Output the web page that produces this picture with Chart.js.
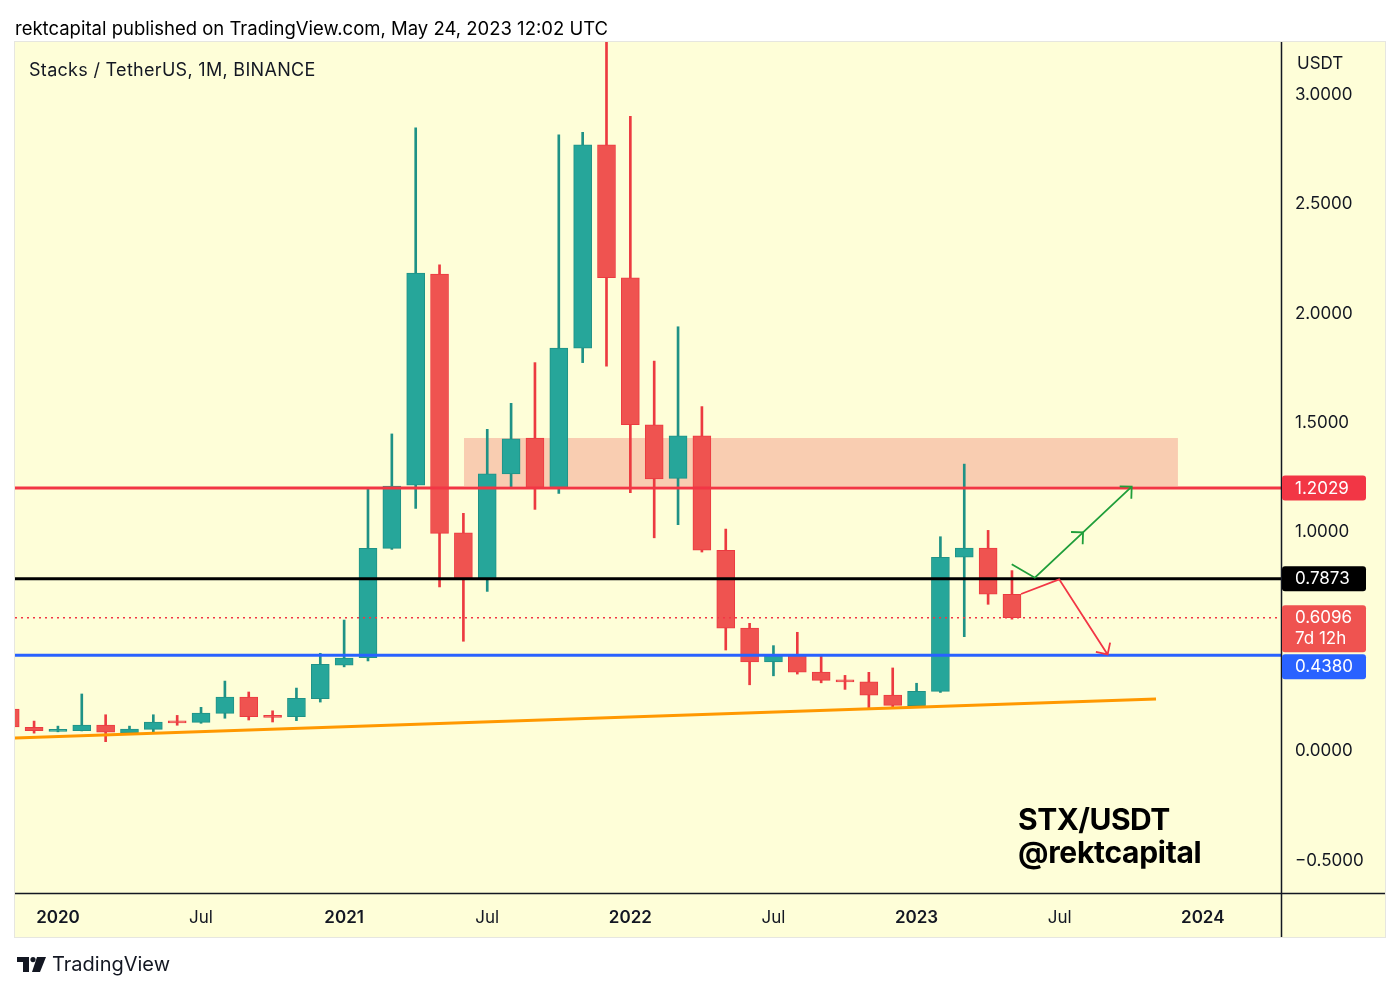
<!DOCTYPE html>
<html>
<head>
<meta charset="utf-8">
<script src="https://cdn.jsdelivr.net/npm/chart.js@4/dist/chart.umd.min.js"></script>
<style>
  html, body { margin: 0; padding: 0; background: #ffffff; }
  #wrap { position: relative; width: 1400px; height: 992px; overflow: hidden; font-family: Inter, "Open Sans", "DejaVu Sans", sans-serif; }
  canvas { position: absolute; left: 0; top: 0; }
  .txt { position: absolute; white-space: nowrap; color: #131722; }
  #hdr { left: 15px; top: 17px; font-size: 18.5px; color: #000; letter-spacing: 0px; }
  #ttl { left: 29px; top: 59px; font-size: 18px; color: #131722; letter-spacing: 0.3px; }
  #usdt { left: 1297px; top: 53px; font-size: 17px; color: #131722; }
  #wm1 { left: 1018px; top: 803px; font-size: 30px; font-weight: 700; color: #000; letter-spacing: -0.5px; line-height: 32px; }
  #wm2 { left: 1018px; top: 836px; font-size: 30px; font-weight: 700; color: #000; letter-spacing: -0.3px; line-height: 32px; }
  #foot { left: 52px; top: 952px; font-size: 20px; color: #131722; }
  #logo { position: absolute; left: 17px; top: 957px; }
</style>
</head>
<body>
<div id="wrap">
  <canvas id="c" width="1400" height="992"></canvas>
  <div class="txt" id="hdr">rektcapital published on TradingView.com, May 24, 2023 12:02 UTC</div>
  <div class="txt" id="ttl">Stacks / TetherUS, 1M, BINANCE</div>
  <div class="txt" id="usdt">USDT</div>
  <div class="txt" id="wm1">STX/USDT</div>
  <div class="txt" id="wm2">@rektcapital</div>
  <svg id="logo" width="30" height="16" viewBox="0 0 30 16">
    <path d="M0 0 H12 V15 H6 V5 H0 Z" fill="#131722"/>
    <circle cx="16" cy="2.6" r="2.6" fill="#131722"/>
    <path d="M20 0 H29 L23 15 H15 Z" fill="#131722"/>
  </svg>
  <div class="txt" id="foot">TradingView</div>
</div>
<script>
// ---------------- DATA ----------------
const months = ['2019-11','2019-12','2020-01','2020-02','2020-03','2020-04','2020-05','2020-06','2020-07','2020-08','2020-09','2020-10','2020-11','2020-12',
  '2021-01','2021-02','2021-03','2021-04','2021-05','2021-06','2021-07','2021-08','2021-09','2021-10','2021-11','2021-12',
  '2022-01','2022-02','2022-03','2022-04','2022-05','2022-06','2022-07','2022-08','2022-09','2022-10','2022-11','2022-12',
  '2023-01','2023-02','2023-03','2023-04','2023-05'];
const opens  = [0.192,0.108,0.090,0.093,0.119,0.082,0.099,0.138,0.131,0.172,0.247,0.163,0.157,0.239,
  0.393,0.427,0.927,1.216,2.181,0.998,0.786,1.267,1.431,1.201,1.842,2.772,
  2.164,1.492,1.247,1.441,0.918,0.562,0.408,0.438,0.361,0.325,0.316,0.256,
  0.207,0.273,0.886,0.928,0.717];
const highs  = [0.198,0.137,0.114,0.261,0.166,0.114,0.166,0.163,0.200,0.320,0.270,0.184,0.288,0.447,
  0.599,1.201,1.450,2.850,2.223,1.087,1.471,1.590,1.776,2.817,2.829,3.350,
  2.902,1.783,1.940,1.575,1.015,0.584,0.482,0.543,0.438,0.346,0.360,0.380,
  0.310,0.980,1.312,1.009,0.825];
const lows   = [0.108,0.082,0.088,0.092,0.043,0.078,0.087,0.118,0.127,0.150,0.142,0.133,0.139,0.224,
  0.385,0.412,0.922,1.109,0.751,0.502,0.730,1.200,1.105,1.178,1.776,1.760,
  1.181,0.975,1.035,0.910,0.462,0.303,0.344,0.352,0.312,0.282,0.194,0.194,
  0.200,0.268,0.523,0.671,0.603];
const closes = [0.110,0.093,0.099,0.119,0.086,0.101,0.133,0.129,0.174,0.247,0.157,0.154,0.241,0.397,
  0.425,0.927,1.212,2.185,0.995,0.786,1.267,1.428,1.204,1.843,2.772,2.164,
  1.492,1.244,1.441,0.918,0.562,0.408,0.438,0.361,0.323,0.316,0.255,0.209,
  0.273,0.886,0.928,0.717,0.6096];

// horizontal levels
const levelValues = [1.2029, 0.7873, 0.4380];
const levelColors = ['#f23645', '#000000', '#2962ff'];
const lastPrice = 0.6096;

// price tags on the right axis
const tagValues = [1.2029, 0.7873, 0.6096, 0.4380];
const tagTexts  = [['1.2029'], ['0.7873'], ['0.6096', '7d 12h'], ['0.4380']];
const tagColors = ['#f23645', '#000000', '#ef5350', '#2962ff'];

// support trendline (month index, price)
const trendX = [-1.8, 46.04];
const trendY = [0.060, 0.238];

// resistance zone
const zoneX = [17.02, 46.96];
const zoneTop = 1.431;
const zoneBottom = 1.212;

// projection arrows
const greenPathX = [39.99, 40.96, 42.98, 45.02];
const greenPathY = [0.854, 0.7925, 1.000, 1.2087];
const greenHeads = [2, 3];
const redPathX = [40.38, 41.98, 44.01];
const redPathY = [0.718, 0.785, 0.442];
const redHeads = [2];

// axes
const xMin = -1.8, xMax = 51.28;
const xTickValues = [0, 6, 12, 18, 24, 30, 36, 42, 48];
const xTickLabels = ['2020', 'Jul', '2021', 'Jul', '2022', 'Jul', '2023', 'Jul', '2024'];
const yMin = -0.649, yMax = 3.242;
const yTickValues = [3, 2.5, 2, 1.5, 1, 0.5, 0, -0.5];
const yTickLabels = ['3.0000', '2.5000', '2.0000', '1.5000', '1.0000', '', '0.0000', '\u22120.5000'];

// ---------------- BUILD ----------------
const monthIdx = months.map(m => { const [y, mo] = m.split('-').map(Number); return (y - 2020) * 12 + (mo - 1); });
const UP = '#26a69a', UP_B = '#1f9286', DN = '#ef5350', DN_B = '#ec3a40';
const isUp = closes.map((c, i) => c >= opens[i]);
const bodyData = monthIdx.map((x, i) => ({ x, y: [opens[i], closes[i]] }));
const wickData = monthIdx.map((x, i) => ({ x, y: [lows[i], highs[i]] }));
const span = (v) => [{ x: xMin, y: v }, { x: xMax, y: v }];
const font = 'Inter, "Open Sans", "DejaVu Sans", sans-serif';

const datasets = [];
datasets.push({
  type: 'line', order: 20,
  data: zoneX.map(x => ({ x, y: zoneTop })),
  borderWidth: 0, pointRadius: 0, backgroundColor: '#f9cdb1',
  fill: { value: zoneBottom }
});
datasets.push({
  type: 'bar', order: 15, grouped: false, barThickness: 2,
  data: wickData,
  backgroundColor: isUp.map(u => u ? UP_B : DN_B), borderWidth: 0
});
datasets.push({
  type: 'bar', order: 14, grouped: false, barThickness: 18, minBarLength: 2,
  data: bodyData,
  backgroundColor: isUp.map(u => u ? UP : DN),
  borderColor: isUp.map(u => u ? UP_B : DN_B),
  borderWidth: 1, borderSkipped: false
});
datasets.push({
  type: 'line', order: 10,
  data: trendX.map((x, i) => ({ x, y: trendY[i] })),
  borderColor: '#ff9800', borderWidth: 3, pointRadius: 0, fill: false
});
datasets.push({
  type: 'line', order: 9, data: span(lastPrice),
  borderColor: '#f23645', borderWidth: 1.3, borderDash: [2, 4], pointRadius: 0, fill: false
});
levelValues.forEach((v, i) => datasets.push({
  type: 'line', order: 8, data: span(v),
  borderColor: levelColors[i], borderWidth: 3, pointRadius: 0, fill: false
}));
datasets.push({
  type: 'line', order: 2, arrowHeads: greenHeads,
  data: greenPathX.map((x, i) => ({ x, y: greenPathY[i] })),
  borderColor: '#1f9e3a', borderWidth: 1.8, pointRadius: 0, fill: false
});
datasets.push({
  type: 'line', order: 2, arrowHeads: redHeads,
  data: redPathX.map((x, i) => ({ x, y: redPathY[i] })),
  borderColor: '#f23645', borderWidth: 1.8, pointRadius: 0, fill: false
});

const panelPlugin = {
  id: 'panel',
  beforeDraw(chart) {
    const ctx = chart.ctx;
    ctx.save();
    ctx.fillStyle = '#fefed8';
    ctx.fillRect(15, 42, 1370, 895);
    ctx.strokeStyle = '#e6e6e0';
    ctx.lineWidth = 1;
    ctx.strokeRect(14.5, 41.5, 1371, 896);
    ctx.restore();
  },
  afterDatasetsDraw(chart) {
    const ctx = chart.ctx, a = chart.chartArea;
    const xs = chart.scales.x, ys = chart.scales.y;
    ctx.save();
    // arrowheads
    chart.data.datasets.forEach((ds) => {
      if (!ds.arrowHeads) return;
      ctx.strokeStyle = ds.borderColor;
      ctx.lineWidth = ds.borderWidth;
      ds.arrowHeads.forEach(k => {
        const p = ds.data[k], q = ds.data[k - 1];
        const tx = xs.getPixelForValue(p.x), ty = ys.getPixelForValue(p.y);
        const px = xs.getPixelForValue(q.x), py = ys.getPixelForValue(q.y);
        const back = Math.atan2(py - ty, px - tx);
        const L = 12, th = Math.PI / 4;
        ctx.beginPath();
        ctx.moveTo(tx + L * Math.cos(back + th), ty + L * Math.sin(back + th));
        ctx.lineTo(tx, ty);
        ctx.lineTo(tx + L * Math.cos(back - th), ty + L * Math.sin(back - th));
        ctx.stroke();
      });
    });
    // axis border lines
    ctx.strokeStyle = '#131722';
    ctx.lineWidth = 1.5;
    ctx.beginPath();
    ctx.moveTo(15, a.bottom + 0.5); ctx.lineTo(1385, a.bottom + 0.5);
    ctx.moveTo(a.right + 0.5, 42); ctx.lineTo(a.right + 0.5, 937);
    ctx.stroke();
    // price tags
    let prevBottom = -1e9;
    ctx.font = '17px ' + font;
    ctx.textBaseline = 'middle';
    ctx.textAlign = 'left';
    tagValues.forEach((v, i) => {
      const py = ys.getPixelForValue(v);
      const lines = tagTexts[i];
      const h = 25 + (lines.length - 1) * 22;
      let top = py - 12.5;
      if (top < prevBottom + 2) top = prevBottom + 2;
      prevBottom = top + h;
      ctx.fillStyle = tagColors[i];
      ctx.beginPath();
      ctx.roundRect(a.right + 1, top, 84, h, 3);
      ctx.fill();
      ctx.fillStyle = '#ffffff';
      lines.forEach((t, j) => ctx.fillText(t, a.right + 14, top + 13 + j * 21));
    });
    ctx.restore();
  }
};

new Chart(document.getElementById('c'), {
  type: 'bar',
  data: { datasets },
  plugins: [panelPlugin],
  options: {
    responsive: false, devicePixelRatio: 1, animation: false,
    layout: { padding: { left: 15, top: 42, right: 15, bottom: 55 } },
    plugins: { legend: { display: false }, tooltip: { enabled: false } },
    scales: {
      x: {
        type: 'linear', min: xMin, max: xMax, offset: false,
        grid: { display: false }, border: { display: false },
        afterFit: s => { s.height = 44; },
        afterBuildTicks: s => { s.ticks = xTickValues.map(v => ({ value: v })); },
        ticks: {
          autoSkip: false, maxRotation: 0, padding: 7, color: '#131722',
          callback: (v, i) => xTickLabels[i],
          font: c => ({ family: font, size: 17, weight: /^\d{4}$/.test(xTickLabels[c.index]) ? '600' : '400' })
        }
      },
      y: {
        type: 'linear', position: 'right', min: yMin, max: yMax,
        grid: { display: false }, border: { display: false },
        afterFit: s => { s.width = 104; },
        afterBuildTicks: s => { s.ticks = yTickValues.map(v => ({ value: v })); },
        ticks: {
          padding: 6, color: '#131722', crossAlign: 'near',
          font: { family: font, size: 17 },
          callback: (v, i) => yTickLabels[i]
        }
      }
    }
  }
});
</script>
</body>
</html>
